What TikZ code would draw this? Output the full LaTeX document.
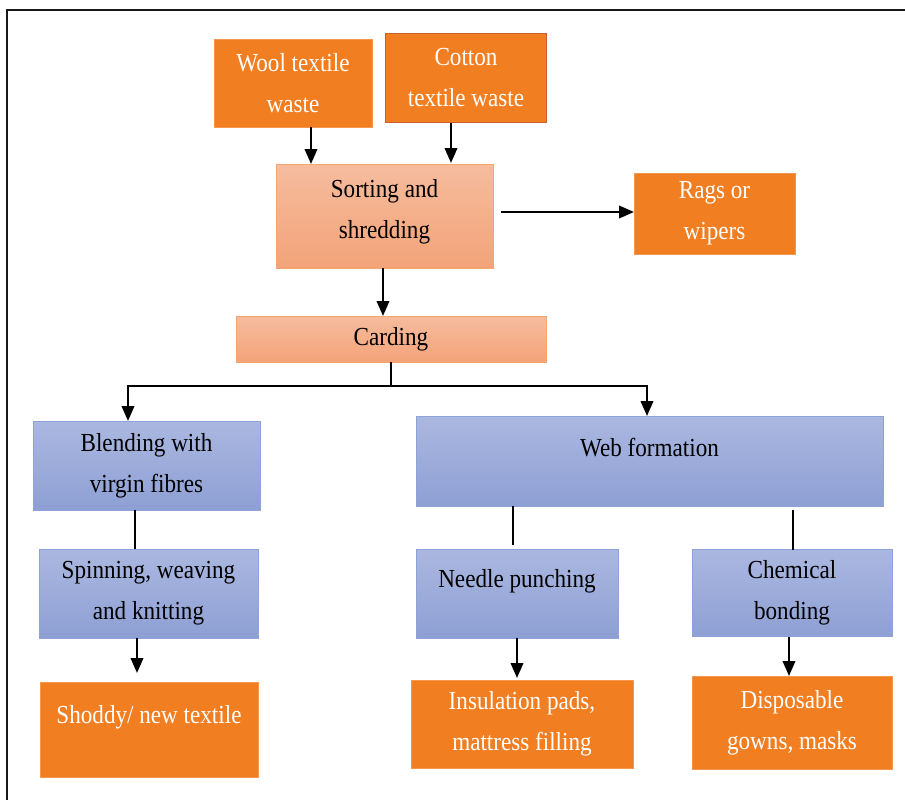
\documentclass[tikz,border=0pt]{standalone}
\usepackage{fontspec}
\setmainfont[FakeStretch=0.89]{Liberation Serif}
\usetikzlibrary{arrows.meta}
\definecolor{org}{HTML}{F27E22}
\definecolor{orgdark}{HTML}{C9622A}
\definecolor{salT}{HTML}{F6BC9E}
\definecolor{salB}{HTML}{F3A378}
\definecolor{salE}{HTML}{F5A66F}
\definecolor{bluT}{HTML}{AAB8E0}
\definecolor{bluB}{HTML}{8E9FD4}
\definecolor{bluE}{HTML}{8DA2D9}
\tikzset{
  every node/.style={inner sep=0pt, outer sep=0pt, font=\fontsize{26}{41}\selectfont, align=center},
  obox/.style={rectangle, fill=org, draw=org!80!white, line width=0.6pt, text=white},
  sbox/.style={rectangle, top color=salT, bottom color=salB, draw=salE, line width=1pt, text=black},
  bbox/.style={rectangle, top color=bluT, bottom color=bluB, draw=bluE, line width=1pt, text=black},
  wtxt/.style={text=white},
  ktxt/.style={text=black},
  arr/.style={line width=2.2pt, -{Triangle[length=15pt,width=12.5pt]}},
  conn/.style={line width=2.2pt},
  thinconn/.style={line width=1.5pt},
}
\begin{document}
\begin{tikzpicture}[x=1pt,y=-1pt]
\useasboundingbox (0,0) rectangle (905,800);
% frame
\draw[line width=2.2pt, black!90] (7,800) -- (7,10) -- (905,10);
% top sources
\node[obox, minimum width=158pt, minimum height=88pt] (wool) at (293,83) {Wool textile\\waste};
\node[obox, draw=orgdark, line width=1.6pt, minimum width=161pt, minimum height=89pt] (cotton) at (466,78) {Cotton\\textile waste};
% sorting
\node[sbox, minimum width=217pt, minimum height=104pt] (sort) at (384.5,216) {};
\node[ktxt] (sortt) at (384.5,212) {Sorting and\\shredding};
\node[obox, minimum width=161pt, minimum height=81pt] (rags) at (714.5,213.5) {Rags or\\wipers};
% carding
\node[sbox, minimum width=310pt, minimum height=46pt] (card) at (391,339) {Carding};
% blue row 1
\node[bbox, minimum width=227pt, minimum height=89pt] (blend) at (146.5,465.5) {Blending with\\virgin fibres};
\node[bbox, minimum width=467pt, minimum height=90pt] (web) at (649.5,461) {};
\node[ktxt] (webt) at (649.5,448) {Web formation};
% blue row 2
\node[bbox, minimum width=219pt, minimum height=89pt] (spin) at (148.5,593.5) {Spinning, weaving\\and knitting};
\node[bbox, minimum width=202pt, minimum height=89pt] (needle) at (517,593.5) {};
\node[ktxt] (needlet) at (517,581) {Needle punching};
\node[bbox, minimum width=200pt, minimum height=87pt] (chem) at (792,593) {Chemical\\bonding};
% outputs
\node[obox, minimum width=218pt, minimum height=95pt] (shoddy) at (149,729.5) {};
\node[wtxt] (shoddyt) at (149,717) {Shoddy/ new textile};
\node[obox, minimum width=222pt, minimum height=88pt] (insul) at (522,724) {Insulation pads,\\mattress filling};
\node[obox, minimum width=200pt, minimum height=93pt] (disp) at (792,722.5) {Disposable\\gowns, masks};
% connectors
\draw[arr] (311,0 |- wool.south) -- (311,0 |- sort.north);
\draw[arr] (451,0 |- cotton.south) -- (451,163);
\draw[arr] (501,212) -- (rags.west |- 0,212);
\draw[arr] (383,0 |- sort.south) -- (383,0 |- card.north);
\coordinate (split) at (391,386);
\draw[thinconn] (card.south) -- (split);
\draw[thinconn] (128,386) -- (647,386);
\draw[arr] (128,385.3) -- (128,0 |- blend.north);
\draw[arr] (647,385.3) -- (647,0 |- web.north);
\draw[conn] (135,0 |- blend.south) -- (135,0 |- spin.north);
\draw[conn] (513,0 |- web.south) -- (513,545);
\draw[thinconn] (793,510) -- (793,0 |- chem.north);
\draw[arr] (137,0 |- spin.south) -- (137,673);
\draw[arr] (517,0 |- needle.south) -- (517,678);
\draw[arr] (789,0 |- chem.south) -- (789,676);
\end{tikzpicture}
\end{document}
